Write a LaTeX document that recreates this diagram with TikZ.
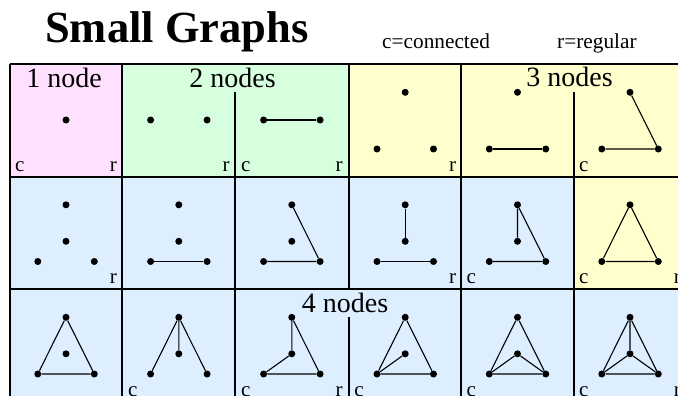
\documentclass[tikz,border=0pt]{standalone}
\usepackage{fontspec}
\setmainfont{Liberation Serif}

\definecolor{pinkcell}{RGB}{255,224,255}
\definecolor{greencell}{RGB}{214,255,222}
\definecolor{yellowcell}{RGB}{255,255,206}
\definecolor{bluecell}{RGB}{221,238,255}

\tikzset{
    dot/.style={circle, fill=black, inner sep=0pt, minimum size=7pt},
    link/.style={line width=1.1pt},
    gridline/.style={line width=1.5pt},
    header/.style={anchor=base, inner sep=0pt, font=\fontsize{28}{30}\selectfont},
    cornerc/.style={anchor=base west, inner sep=0pt, font=\fontsize{21}{23}\selectfont},
    cornerr/.style={anchor=base east, inner sep=0pt, font=\fontsize{21}{23}\selectfont}
}

\begin{document}
\begin{tikzpicture}[x=1pt, y=-1pt]
\useasboundingbox (0,0) rectangle (678,396);

% title
\node[anchor=base west, inner sep=0pt, font=\fontsize{44.5}{46}\selectfont\bfseries] (title) at (45,43) {Small Graphs};
\node[anchor=base west, inner sep=0pt, font=\fontsize{21.3}{23}\selectfont] (conn) at (382,49) {c=connected};
\node[anchor=base west, inner sep=0pt, font=\fontsize{21.3}{23}\selectfont] (reg) at (557,49) {r=regular};

% cell backgrounds
\fill[pinkcell] (10,64) rectangle (122,177);
\fill[greencell] (122,64) rectangle (349,177);
\fill[yellowcell] (349,64) rectangle (686,177);
\fill[bluecell] (10,177) rectangle (574,289);
\fill[yellowcell] (574,177) rectangle (686,289);
\fill[bluecell] (10,289) rectangle (686,402);

% grid
\foreach \y in {64,177,289}
    \draw[gridline] (10,\y) -- (686,\y);
\foreach \x in {10,122,461}
    \draw[gridline] (\x,64) -- (\x,402);
\draw[gridline] (235,92) -- (235,402);
\draw[gridline] (574,92) -- (574,402);
\draw[gridline] (349,64) -- (349,289);
\draw[gridline] (349,317) -- (349,402);

% group headers
\node[header] (h1) at (64,87.7) {1 node};
\node[header] (h2) at (232.5,87.7) {2 nodes};
\node[header] (h3) at (569.5,86.5) {3 nodes};
\node[header] (h4) at (345,312) {4 nodes};

% row 1
\begin{scope}[shift={(9.5,64)}]
    \node[dot] (a1x) at (56.5,56) {};
    \node[cornerc] (a1c) at (5.5,107) {c};
    \node[cornerr] (a1r) at (107.5,107) {r};
\end{scope}
\begin{scope}[shift={(122.3,64)}]
    \node[dot] (a2l) at (28.3,56) {};
    \node[dot] (a2r) at (84.8,56) {};
    \node[cornerr] (a2rr) at (107.5,107) {r};
\end{scope}
\begin{scope}[shift={(235.3,64)}]
    \node[dot] (a3l) at (28.3,56) {};
    \node[dot] (a3r) at (84.8,56) {};
    \draw[link] (a3l) -- (a3r);
    \node[cornerc] (a3c) at (5.5,107) {c};
    \node[cornerr] (a3rr) at (107.5,107) {r};
\end{scope}
\begin{scope}[shift={(348.7,64)}]
    \node[dot] (a4t) at (56.5,28.3) {};
    \node[dot] (a4l) at (28.3,85) {};
    \node[dot] (a4r) at (84.8,85) {};
    \node[cornerr] (a4rr) at (107.5,107) {r};
\end{scope}
\begin{scope}[shift={(461,64)}]
    \node[dot] (a5t) at (56.5,28.3) {};
    \node[dot] (a5l) at (28.3,85) {};
    \node[dot] (a5r) at (84.8,85) {};
    \draw[link] (a5l) -- (a5r);
\end{scope}
\begin{scope}[shift={(573.5,64)}]
    \node[dot] (a6t) at (56.5,28.3) {};
    \node[dot] (a6l) at (28.3,85) {};
    \node[dot] (a6r) at (84.8,85) {};
    \draw[link] (a6t) -- (a6r) (a6l) -- (a6r);
    \node[cornerc] (a6c) at (5.5,107) {c};
\end{scope}

% row 2
\begin{scope}[shift={(9.5,176.5)}]
    \node[dot] (b1t) at (56.5,28.3) {};
    \node[dot] (b1m) at (56.5,64.8) {};
    \node[dot] (b1l) at (28.3,85) {};
    \node[dot] (b1r) at (84.8,85) {};
    \node[cornerr] (b1rr) at (107.5,107) {r};
\end{scope}
\begin{scope}[shift={(122.3,176.5)}]
    \node[dot] (b2t) at (56.5,28.3) {};
    \node[dot] (b2m) at (56.5,64.8) {};
    \node[dot] (b2l) at (28.3,85) {};
    \node[dot] (b2r) at (84.8,85) {};
    \draw[link] (b2l) -- (b2r);
\end{scope}
\begin{scope}[shift={(235.3,176.5)}]
    \node[dot] (b3t) at (56.5,28.3) {};
    \node[dot] (b3m) at (56.5,64.8) {};
    \node[dot] (b3l) at (28.3,85) {};
    \node[dot] (b3r) at (84.8,85) {};
    \draw[link] (b3t) -- (b3r) (b3l) -- (b3r);
\end{scope}
\begin{scope}[shift={(348.7,176.5)}]
    \node[dot] (b4t) at (56.5,28.3) {};
    \node[dot] (b4m) at (56.5,64.8) {};
    \node[dot] (b4l) at (28.3,85) {};
    \node[dot] (b4r) at (84.8,85) {};
    \draw[link] (b4t) -- (b4m) (b4l) -- (b4r);
    \node[cornerr] (b4rr) at (107.5,107) {r};
\end{scope}
\begin{scope}[shift={(461,176.5)}]
    \node[dot] (b5t) at (56.5,28.3) {};
    \node[dot] (b5m) at (56.5,64.8) {};
    \node[dot] (b5l) at (28.3,85) {};
    \node[dot] (b5r) at (84.8,85) {};
    \draw[link] (b5t) -- (b5m) (b5t) -- (b5r) (b5l) -- (b5r);
    \node[cornerc] (b5c) at (5.5,107) {c};
\end{scope}
\begin{scope}[shift={(573.5,176.5)}]
    \node[dot] (b6t) at (56.5,28.3) {};
    \node[dot] (b6l) at (28.3,85) {};
    \node[dot] (b6r) at (84.8,85) {};
    \draw[link] (b6t) -- (b6l) -- (b6r) -- (b6t);
    \node[cornerc] (b6c) at (5.5,107) {c};
    \node[cornerr] (b6rr) at (107.5,107) {r};
\end{scope}

% row 3
\begin{scope}[shift={(9.5,289)}]
    \node[dot] (c1t) at (56.5,28.3) {};
    \node[dot] (c1m) at (56.5,64.8) {};
    \node[dot] (c1l) at (28.3,85) {};
    \node[dot] (c1r) at (84.8,85) {};
    \draw[link] (c1t) -- (c1l) -- (c1r) -- (c1t);
\end{scope}
\begin{scope}[shift={(122.3,289)}]
    \node[dot] (c2t) at (56.5,28.3) {};
    \node[dot] (c2m) at (56.5,64.8) {};
    \node[dot] (c2l) at (28.3,85) {};
    \node[dot] (c2r) at (84.8,85) {};
    \draw[link] (c2t) -- (c2l) (c2t) -- (c2m) (c2t) -- (c2r);
    \node[cornerc] (c2c) at (5.5,107) {c};
\end{scope}
\begin{scope}[shift={(235.3,289)}]
    \node[dot] (c3t) at (56.5,28.3) {};
    \node[dot] (c3m) at (56.5,64.8) {};
    \node[dot] (c3l) at (28.3,85) {};
    \node[dot] (c3r) at (84.8,85) {};
    \draw[link] (c3t) -- (c3m) -- (c3l) -- (c3r) -- (c3t);
    \node[cornerc] (c3c) at (5.5,107) {c};
    \node[cornerr] (c3rr) at (107.5,107) {r};
\end{scope}
\begin{scope}[shift={(348.7,289)}]
    \node[dot] (c4t) at (56.5,28.3) {};
    \node[dot] (c4m) at (56.5,64.8) {};
    \node[dot] (c4l) at (28.3,85) {};
    \node[dot] (c4r) at (84.8,85) {};
    \draw[link] (c4t) -- (c4l) -- (c4r) -- (c4t) (c4m) -- (c4l);
    \node[cornerc] (c4c) at (5.5,107) {c};
\end{scope}
\begin{scope}[shift={(461,289)}]
    \node[dot] (c5t) at (56.5,28.3) {};
    \node[dot] (c5m) at (56.5,64.8) {};
    \node[dot] (c5l) at (28.3,85) {};
    \node[dot] (c5r) at (84.8,85) {};
    \draw[link] (c5t) -- (c5l) -- (c5r) -- (c5t) (c5l) -- (c5m) -- (c5r);
    \node[cornerc] (c5c) at (5.5,107) {c};
\end{scope}
\begin{scope}[shift={(573.5,289)}]
    \node[dot] (c6t) at (56.5,28.3) {};
    \node[dot] (c6m) at (56.5,64.8) {};
    \node[dot] (c6l) at (28.3,85) {};
    \node[dot] (c6r) at (84.8,85) {};
    \draw[link] (c6t) -- (c6l) -- (c6r) -- (c6t) (c6l) -- (c6m) -- (c6r) (c6t) -- (c6m);
    \node[cornerc] (c6c) at (5.5,107) {c};
    \node[cornerr] (c6rr) at (107.5,107) {r};
\end{scope}
\end{tikzpicture}
\end{document}
